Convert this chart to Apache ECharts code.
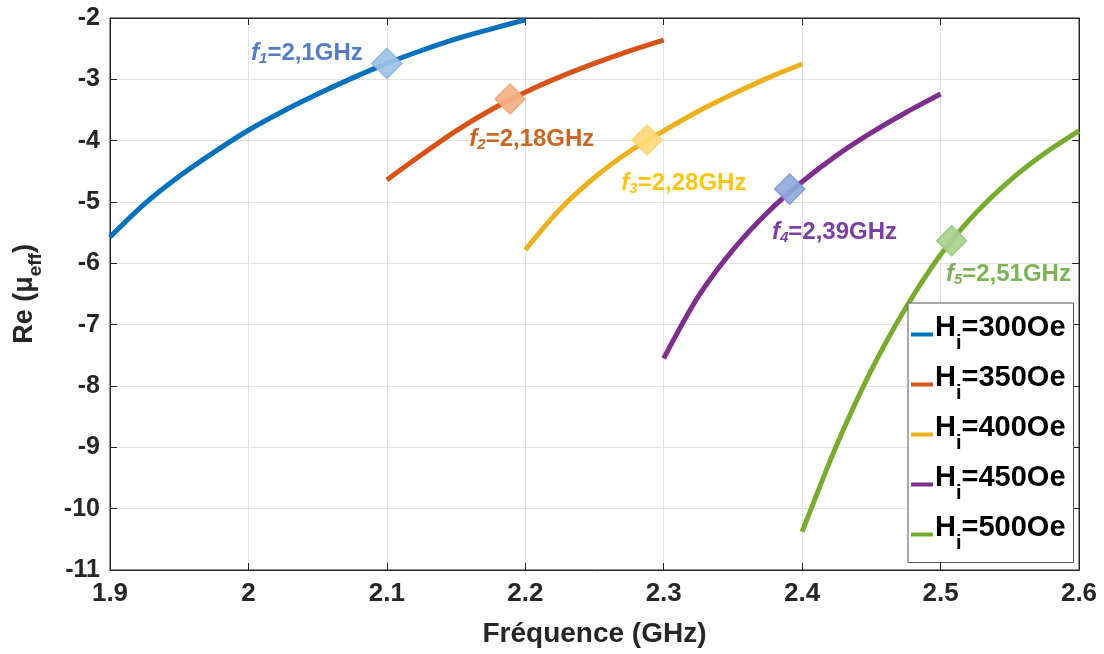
<!DOCTYPE html>
<html>
<head>
<meta charset="utf-8">
<script src="https://cdn.jsdelivr.net/npm/echarts@6/dist/echarts.min.js"></script>
<style>html,body{margin:0;padding:0;background:#fff}#c{width:1104px;height:654px}</style>
</head>
<body>
<div id="c"></div>
<script>
// ---- data ----
const seriesNames = ['Hi=300Oe', 'Hi=350Oe', 'Hi=400Oe', 'Hi=450Oe', 'Hi=500Oe'];
const freq300 = [1.9, 1.925, 1.95, 1.975, 2.0, 2.025, 2.05, 2.075, 2.1, 2.125, 2.15, 2.175, 2.2];
const mu300   = [-5.57, -5.03, -4.58, -4.19, -3.83, -3.52, -3.24, -2.98, -2.74, -2.53, -2.34, -2.18, -2.03];
const freq350 = [2.1, 2.125, 2.15, 2.175, 2.2, 2.225, 2.25, 2.275, 2.3];
const mu350   = [-4.64, -4.23, -3.84, -3.50, -3.21, -2.96, -2.74, -2.54, -2.36];
const freq400 = [2.2, 2.225, 2.25, 2.275, 2.3, 2.325, 2.35, 2.375, 2.4];
const mu400   = [-5.78, -5.12, -4.60, -4.18, -3.84, -3.52, -3.24, -2.98, -2.75];
const freq450 = [2.3, 2.325, 2.35, 2.375, 2.4, 2.425, 2.45, 2.475, 2.5];
const mu450   = [-7.55, -6.54, -5.78, -5.17, -4.67, -4.24, -3.87, -3.54, -3.24];
const freq500 = [2.4, 2.425, 2.45, 2.475, 2.5, 2.525, 2.55, 2.575, 2.6];
const mu500   = [-10.38, -8.96, -7.74, -6.72, -5.86, -5.19, -4.65, -4.21, -3.84];
const markerFreq = [2.1, 2.189, 2.288, 2.391, 2.508];
const markerMu   = [-2.74, -3.32, -3.99, -4.79, -5.63];
const markerSub  = ['1', '2', '3', '4', '5'];
const markerText = ['=2,1GHz', '=2,18GHz', '=2,28GHz', '=2,39GHz', '=2,51GHz'];

// ---- styles ----
const lineColors = ['#0072BD', '#D95319', '#EDB120', '#7E2F8E', '#77AC30'];
const markerFill = ['#9dc3e6', '#f4b183', '#ffd97a', '#8faadc', '#a9d18e'];
const markerBorder = ['#8eb4e3', '#f2a27a', '#ffd06a', '#7f9bd6', '#9cc97f'];
const labelColors = ['#4472c4', '#c55a11', '#ffc000', '#7030a0', '#70ad47'];
const labelPos = [[-120, 6], [-25, 56], [-10, 59], [-2, 59], [10, 49]];

const freqs = [freq300, freq350, freq400, freq450, freq500];
const mus = [mu300, mu350, mu400, mu450, mu500];
const FONT = 'Liberation Sans, Arial, sans-serif';
const AX = '#262626';

const series = seriesNames.map((n, i) => ({
  name: n, type: 'line', smooth: 0.3, showSymbol: false, symbol: 'none',
  data: freqs[i].map((f, j) => [f, mus[i][j]]),
  lineStyle: { color: lineColors[i], width: 5 },
  itemStyle: { color: lineColors[i] },
  z: 2
}));

markerFreq.forEach((f, i) => {
  series.push({
    type: 'scatter', symbol: 'diamond', symbolSize: 30, z: 5,
    data: [[f, markerMu[i]]],
    itemStyle: { color: markerFill[i], borderColor: markerBorder[i], borderWidth: 1.5, opacity: 0.92 },
    label: {
      show: true, position: labelPos[i], align: 'left', verticalAlign: 'middle',
      formatter: '{f|f}{s|' + markerSub[i] + '}{n|' + markerText[i] + '}',
      rich: {
        f: { fontFamily: FONT, fontSize: 24, fontWeight: 'bold', fontStyle: 'italic', color: labelColors[i] },
        s: { fontFamily: FONT, fontSize: 15, fontWeight: 'bold', fontStyle: 'italic', color: labelColors[i], padding: [11, 0, 0, 0] },
        n: { fontFamily: FONT, fontSize: 24, fontWeight: 'bold', color: labelColors[i] }
      }
    },
    emphasis: { disabled: true }
  });
});

const option = {
  animation: false,
  backgroundColor: '#ffffff',
  grid: { left: 110, right: 25, top: 18, bottom: 84, show: true, borderColor: AX, borderWidth: 1 },
  legend: {
    data: seriesNames, orient: 'vertical', left: 908, top: 303,
    backgroundColor: '#ffffff', borderColor: '#555', borderWidth: 1,
    padding: [10, 8, 9, 3], itemGap: 9.5, itemWidth: 22, itemHeight: 4, icon: 'rect',
    formatter: n => '{h|H}{s|i}{t|' + n.slice(2) + '}',
    textStyle: {
      color: '#000', fontFamily: FONT, fontWeight: 'bold', fontSize: 28, padding: [0, 0, 0, -3],
      rich: {
        h: { fontFamily: FONT, fontWeight: 'bold', fontSize: 29, color: '#000', padding: [0, 0, 14, 0] },
        s: { fontFamily: FONT, fontWeight: 'bold', fontSize: 20, color: '#000', padding: [18, 0, 0, 0] },
        t: { fontFamily: FONT, fontWeight: 'bold', fontSize: 29, color: '#000', padding: [0, 0, 14, 0] }
      }
    }
  },
  xAxis: [{
    type: 'value', min: 1.9, max: 2.6, interval: 0.1, position: 'bottom',
    name: 'Fréquence (GHz)', nameLocation: 'middle', nameGap: 50,
    nameTextStyle: { fontFamily: FONT, fontWeight: 'bold', fontSize: 28, color: AX },
    axisLine: { show: true, lineStyle: { color: AX } },
    axisTick: { show: true, inside: true, length: 7, lineStyle: { color: AX } },
    axisLabel: { fontFamily: FONT, fontWeight: 'bold', fontSize: 26, color: AX, margin: 11,
      formatter: v => String(+v.toFixed(1)) },
    splitLine: { show: true, lineStyle: { color: '#e3e3e3', width: 1 } }
  }, {
    type: 'value', min: 1.9, max: 2.6, interval: 0.1, position: 'top',
    axisLine: { show: true, lineStyle: { color: AX } },
    axisTick: { show: true, inside: true, length: 7, lineStyle: { color: AX } },
    axisLabel: { show: false }, splitLine: { show: false }
  }],
  yAxis: [{
    type: 'value', min: -11, max: -2, interval: 1, position: 'left',
    name: '{a|Re (μ}{b|eff}{a|)}', nameLocation: 'middle', nameGap: 64, nameRotate: 90,
    nameTextStyle: {
      rich: {
        a: { fontFamily: FONT, fontWeight: 'bold', fontSize: 27, color: AX, padding: [0, 0, 8, 0] },
        b: { fontFamily: FONT, fontWeight: 'bold', fontSize: 19, color: AX, padding: [14, 0, 0, 0] }
      }
    },
    axisLine: { show: true, lineStyle: { color: AX } },
    axisTick: { show: true, inside: true, length: 7, lineStyle: { color: AX } },
    axisLabel: { fontFamily: FONT, fontWeight: 'bold', fontSize: 25, color: AX, margin: 10 },
    splitLine: { show: true, lineStyle: { color: '#e3e3e3', width: 1 } }
  }, {
    type: 'value', min: -11, max: -2, interval: 1, position: 'right',
    axisLine: { show: true, lineStyle: { color: AX } },
    axisTick: { show: true, inside: true, length: 7, lineStyle: { color: AX } },
    axisLabel: { show: false }, splitLine: { show: false }
  }],
  series: series
};

const chart = echarts.init(document.getElementById('c'), null, { renderer: 'canvas' });
chart.setOption(option);
</script>
</body>
</html>
